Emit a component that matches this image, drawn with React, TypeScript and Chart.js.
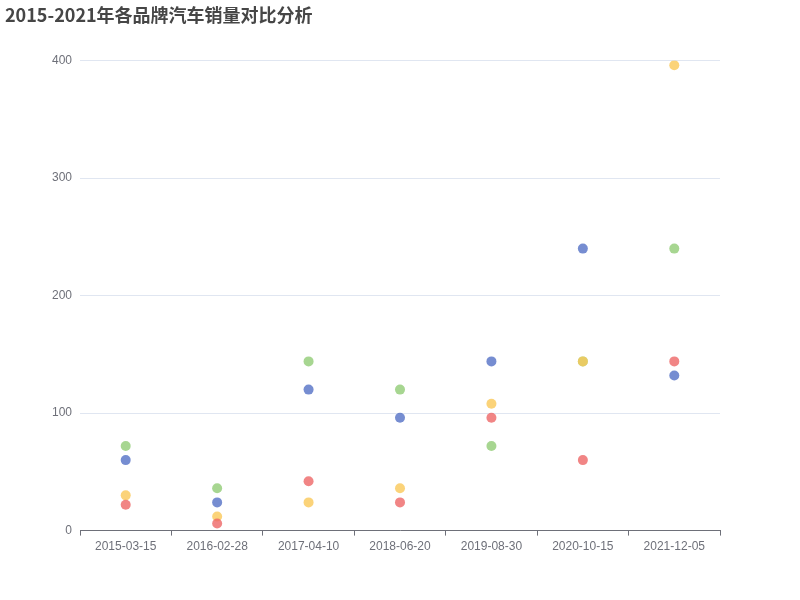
import { useEffect, useRef } from 'react'
import { Chart, registerables } from 'chart.js'

Chart.register(...registerables)

const dates = ['2015-03-15', '2016-02-28', '2017-04-10', '2018-06-20', '2019-08-30', '2020-10-15', '2021-12-05']
const brandA = [60, 24, 120, 96, 144, 240, 132]
const brandB = [72, 36, 144, 120, 72, 144, 240]
const brandC = [30, 12, 24, 36, 108, 144, 396]
const brandD = [22, 6, 42, 24, 96, 60, 144]
const yTicks = [0, 100, 200, 300, 400]

const axisFont = { family: '"Liberation Sans", Arial, sans-serif', size: 12 }

// later series sit on top, as in the original
function dot(label: string, data: number[], color: string, order: number) {
  return {
    label,
    data,
    order,
    showLine: false,
    pointRadius: 5,
    pointHoverRadius: 5,
    pointBorderWidth: 0,
    pointBackgroundColor: color,
    borderColor: color,
    backgroundColor: color,
  }
}

export default function App() {
  const ref = useRef<HTMLCanvasElement>(null)

  useEffect(() => {
    if (!ref.current) return
    const chart = new Chart(ref.current, {
      type: 'line',
      data: {
        labels: dates,
        datasets: [
          dot('品牌A', brandA, 'rgba(84,112,198,0.8)', 3),
          dot('品牌B', brandB, 'rgba(145,204,117,0.8)', 2),
          dot('品牌C', brandC, 'rgba(250,200,88,0.8)', 1),
          dot('品牌D', brandD, 'rgba(238,102,102,0.8)', 0),
        ],
      },
      options: {
        animation: false,
        responsive: false,
        devicePixelRatio: 1,
        layout: { padding: { left: 5, right: 80, top: 0, bottom: 42 } },
        plugins: {
          legend: { display: false },
          tooltip: { enabled: false },
          title: {
            display: true,
            text: '2015-2021年各品牌汽车销量对比分析',
            align: 'start',
            color: '#464646',
            font: { family: '"Noto Sans CJK SC", sans-serif', size: 18, weight: 'bold' },
            padding: { top: 4, bottom: 35 },
          },
        },
        scales: {
          x: {
            offset: true,
            grid: {
              offset: true,
              drawOnChartArea: false,
              drawTicks: true,
              tickLength: 5,
              color: '#6e7079',
            },
            border: { display: true, color: '#6e7079' },
            ticks: { color: '#6e7079', font: axisFont, padding: 4, maxRotation: 0, autoSkip: false },
          },
          y: {
            min: 0,
            max: 400,
            afterBuildTicks: (s) => {
              s.ticks = yTicks.map((v) => ({ value: v }))
            },
            afterFit: (s) => {
              s.width = 75
            },
            grid: { color: '#e0e6f1', drawTicks: false },
            border: { display: false },
            ticks: { color: '#6e7079', font: axisFont, padding: 8 },
          },
        },
      },
    })
    return () => chart.destroy()
  }, [])

  return (
    <div style={{ position: 'absolute', left: 0, top: 0, width: 800, height: 600, background: '#fff' }}>
      <canvas ref={ref} width={800} height={600} />
    </div>
  )
}
